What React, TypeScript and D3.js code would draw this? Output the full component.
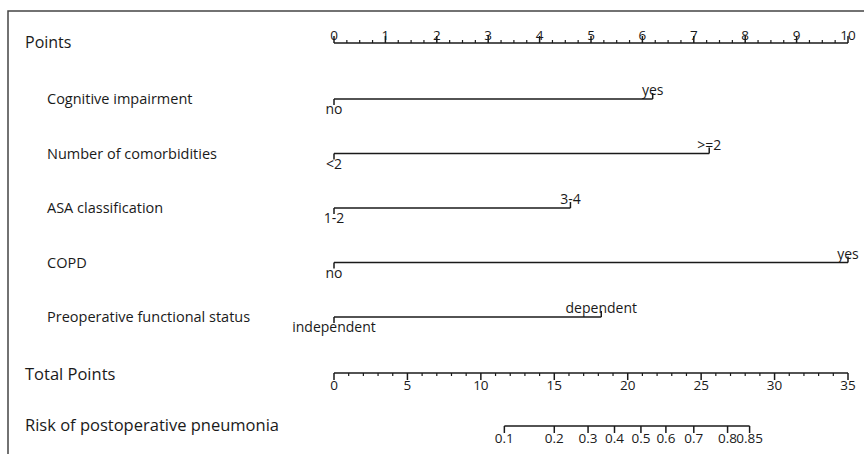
import React, { useEffect, useRef } from "react";
import * as d3 from "d3";

// predictor rows of the nomogram
const predictorNames = [
  "Cognitive impairment",
  "Number of comorbidities",
  "ASA classification",
  "COPD",
  "Preoperative functional status",
];
const levelLabels = [
  ["no", "yes"],
  ["<2", ">=2"],
  ["1-2", "3-4"],
  ["no", "yes"],
  ["independent", "dependent"],
];
const levelPoints = [
  [0, 6.2],
  [0, 7.3],
  [0, 4.6],
  [0, 10],
  [0, 5.2],
];

const pointTicks = d3.range(0, 11, 1);
const totalTicks = d3.range(0, 36, 5);
const riskLabels = ["0.1", "0.2", "0.3", "0.4", "0.5", "0.6", "0.7", "0.8", "0.85"];
const riskAtTotal = [11.6, 15.0, 17.3, 19.1, 20.9, 22.6, 24.5, 26.8, 28.3];

const W = 864;
const H = 454;
const FONT = "'Open Sans', 'Noto Sans', sans-serif";
const INK = "#1a1a1a";

export default function App() {
  const ref = useRef<SVGSVGElement>(null);

  useEffect(() => {
    const svg = d3.select(ref.current);
    svg.selectAll("*").remove();

    const x = d3.scaleLinear().domain([0, 10]).range([334, 848]);
    const xt = d3.scaleLinear().domain([0, 35]).range([334, 848]);

    // frame
    svg.append("path")
      .attr("d", `M8,${H} L8,11 L${W},11`)
      .attr("fill", "none")
      .attr("stroke", "#444")
      .attr("stroke-width", 1.5);

    const label = (txt: string, lx: number, ly: number, size: number) =>
      svg.append("text")
        .attr("x", lx).attr("y", ly)
        .attr("font-family", FONT).attr("font-size", size)
        .attr("fill", INK)
        .text(txt);

    // Points axis
    const pY = 43;
    label("Points", 25, 48, 16);
    svg.append("line")
      .attr("x1", x(0)).attr("x2", x(10)).attr("y1", pY).attr("y2", pY)
      .attr("stroke", INK).attr("stroke-width", 1.5);
    svg.selectAll(".pminor")
      .data(d3.range(0, 10.01, 0.25).filter((v) => v % 1 !== 0))
      .enter().append("line")
      .attr("x1", (d) => x(d)).attr("x2", (d) => x(d))
      .attr("y1", pY).attr("y2", pY - 3)
      .attr("stroke", INK).attr("stroke-width", 1.2);
    svg.selectAll(".pmajor")
      .data(pointTicks)
      .enter().append("line")
      .attr("x1", (d) => x(d)).attr("x2", (d) => x(d))
      .attr("y1", pY).attr("y2", pY - 7)
      .attr("stroke", INK).attr("stroke-width", 1.5);
    svg.selectAll(".plab")
      .data(pointTicks)
      .enter().append("text")
      .attr("x", (d) => x(d)).attr("y", pY - 3)
      .attr("text-anchor", "middle")
      .attr("font-family", FONT).attr("font-size", 13.5).attr("fill", INK)
      .text((d) => d);

    // predictors
    const rowY = d3.scaleLinear().domain([0, 4]).range([99, 317]);
    predictorNames.forEach((name, i) => {
      const y = rowY(i);
      label(name, 47, y + 5, 14.5);
      const pts = levelPoints[i];
      svg.append("line")
        .attr("x1", x(d3.min(pts)!)).attr("x2", x(d3.max(pts)!))
        .attr("y1", y).attr("y2", y)
        .attr("stroke", INK).attr("stroke-width", 1.5);
      pts.forEach((p, j) => {
        const up = j % 2 === 1;
        svg.append("line")
          .attr("x1", x(p)).attr("x2", x(p))
          .attr("y1", y).attr("y2", up ? y - 6 : y + 6)
          .attr("stroke", INK).attr("stroke-width", 1.5);
        svg.append("text")
          .attr("x", x(p)).attr("y", up ? y - 4 : y + 15)
          .attr("text-anchor", "middle")
          .attr("font-family", FONT).attr("font-size", 14).attr("fill", INK)
          .text(levelLabels[i][j]);
      });
    });

    // Total Points axis
    const tY = 373;
    label("Total Points", 25, 380, 16.5);
    svg.append("line")
      .attr("x1", xt(0)).attr("x2", xt(35)).attr("y1", tY).attr("y2", tY)
      .attr("stroke", INK).attr("stroke-width", 1.5);
    svg.selectAll(".tminor")
      .data(d3.range(0, 36, 1).filter((v) => v % 5 !== 0))
      .enter().append("line")
      .attr("x1", (d) => xt(d)).attr("x2", (d) => xt(d))
      .attr("y1", tY).attr("y2", tY + 3)
      .attr("stroke", INK).attr("stroke-width", 1.2);
    svg.selectAll(".tmajor")
      .data(totalTicks)
      .enter().append("line")
      .attr("x1", (d) => xt(d)).attr("x2", (d) => xt(d))
      .attr("y1", tY).attr("y2", tY + 7)
      .attr("stroke", INK).attr("stroke-width", 1.5);
    svg.selectAll(".tlab")
      .data(totalTicks)
      .enter().append("text")
      .attr("x", (d) => xt(d)).attr("y", tY + 17)
      .attr("text-anchor", "middle")
      .attr("font-family", FONT).attr("font-size", 13.5).attr("fill", INK)
      .text((d) => d);

    // Risk axis
    const rY = 426;
    label("Risk of postoperative pneumonia", 25, 431, 16.5);
    svg.append("line")
      .attr("x1", xt(riskAtTotal[0])).attr("x2", xt(riskAtTotal[riskAtTotal.length - 1]))
      .attr("y1", rY).attr("y2", rY)
      .attr("stroke", INK).attr("stroke-width", 1.5);
    svg.selectAll(".rtick")
      .data(riskAtTotal)
      .enter().append("line")
      .attr("x1", (d) => xt(d)).attr("x2", (d) => xt(d))
      .attr("y1", rY).attr("y2", rY + 7)
      .attr("stroke", INK).attr("stroke-width", 1.5);
    svg.selectAll(".rlab")
      .data(riskAtTotal)
      .enter().append("text")
      .attr("x", (d) => xt(d)).attr("y", rY + 17)
      .attr("text-anchor", "middle")
      .attr("font-family", FONT).attr("font-size", 13.5).attr("fill", INK)
      .text((d, i) => riskLabels[i]);
  }, []);

  return (
    <svg
      ref={ref}
      width={W}
      height={H}
      style={{ position: "absolute", left: 0, top: 0, background: "#fff" }}
    />
  );
}
